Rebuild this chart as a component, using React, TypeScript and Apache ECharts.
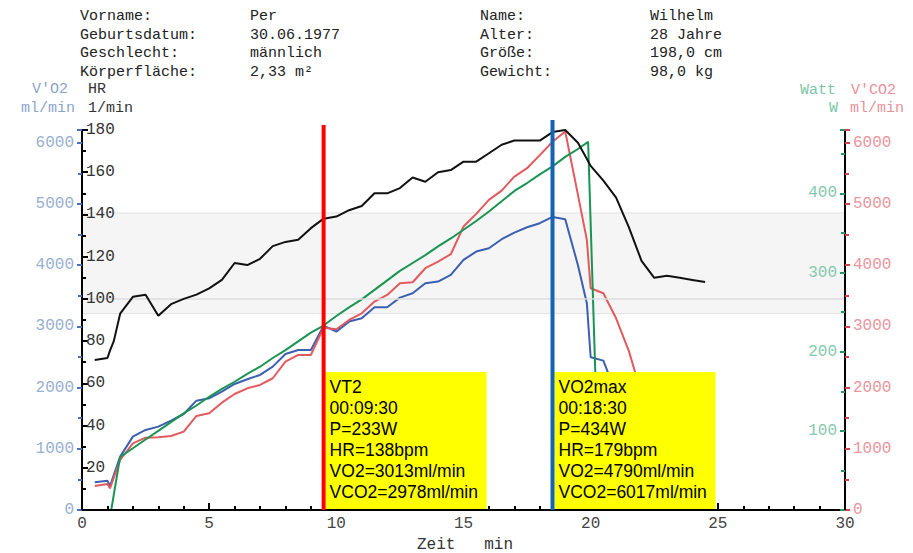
import React, { useEffect, useRef } from "react";
import * as echarts from "echarts";

// ---------- Header data ----------
const headerLabelsLeft = ["Vorname:", "Geburtsdatum:", "Geschlecht:", "Körperfläche:"];
const headerValuesLeft = ["Per", "30.06.1977", "männlich", "2,33 m²"];
const headerLabelsRight = ["Name:", "Alter:", "Größe:", "Gewicht:"];
const headerValuesRight = ["Wilhelm", "28 Jahre", "198,0 cm", "98,0 kg"];

// ---------- Series data (time in min) ----------
const hrTime = [0.5, 1.0, 1.1, 1.25, 1.5, 2.0, 2.5, 3.0, 3.5, 4.0, 4.5, 5.0, 5.5, 6.0, 6.5, 7.0, 7.5, 8.0, 8.5, 9.0, 9.5, 10.0, 10.5, 11.0, 11.5, 12.0, 12.5, 13.0, 13.5, 14.0, 14.5, 15.0, 15.5, 16.0, 16.5, 17.0, 17.5, 18.0, 18.5, 19.0, 19.5, 20.0, 20.5, 21.0, 21.5, 22.0, 22.5, 23.0, 23.5, 24.0, 24.5];
const hrValues = [71, 72, 75.5, 80, 93, 101, 102, 92, 97.5, 100, 102, 105, 109, 117, 116, 119, 125, 127, 128, 133.5, 138, 139, 142, 144, 150, 150, 152.5, 157.5, 155.5, 160, 161, 165, 165, 169, 173, 175, 175, 175, 179, 180, 174, 163, 156, 148, 134, 118, 110, 111, 110, 109, 108];

const vo2Time = [0.5, 1.0, 1.1, 1.5, 2.0, 2.5, 3.0, 3.5, 4.0, 4.5, 5.0, 5.5, 6.0, 6.5, 7.0, 7.5, 8.0, 8.5, 9.0, 9.5, 10.0, 10.5, 11.0, 11.5, 12.0, 12.5, 13.0, 13.5, 14.0, 14.5, 15.0, 15.5, 16.0, 16.5, 17.0, 17.5, 18.0, 18.5, 19.0, 19.5, 19.85, 20.0, 20.5, 21.0, 21.5];
const vo2Values = [453, 479, 392, 872, 1199, 1308, 1362, 1460, 1569, 1787, 1826, 1934, 2060, 2137, 2207, 2343, 2550, 2616, 2616, 3013, 2915, 3079, 3133, 3313, 3313, 3471, 3542, 3706, 3733, 3842, 4087, 4223, 4278, 4425, 4533, 4621, 4687, 4790, 4752, 4000, 3379, 2496, 2441, 1900, 1300];

const vco2Time = [0.5, 1.0, 1.1, 1.5, 2.0, 2.5, 3.0, 3.5, 4.0, 4.5, 5.0, 5.5, 6.0, 6.5, 7.0, 7.5, 8.0, 8.5, 9.0, 9.5, 10.0, 10.5, 11.0, 11.5, 12.0, 12.5, 13.0, 13.5, 14.0, 14.5, 15.0, 15.5, 16.0, 16.5, 17.0, 17.5, 18.0, 18.5, 19.0, 19.5, 19.85, 20.0, 20.5, 21.0, 21.5, 22.0, 22.5];
const vco2Values = [392, 425, 354, 817, 1090, 1182, 1188, 1210, 1280, 1537, 1581, 1754, 1896, 1989, 2043, 2153, 2424, 2534, 2534, 2978, 2954, 3106, 3215, 3406, 3515, 3706, 3722, 3951, 4060, 4180, 4632, 4839, 5068, 5220, 5449, 5586, 5800, 6017, 6185, 5150, 4414, 3624, 3542, 3133, 2600, 1900, 1400];

const wattTime = [1.15, 1.5, 2.0, 2.5, 3.0, 3.5, 4.0, 4.5, 5.0, 5.5, 6.0, 6.5, 7.0, 7.5, 8.0, 8.5, 9.0, 9.5, 10.0, 10.5, 11.0, 11.5, 12.0, 12.5, 13.0, 13.5, 14.0, 14.5, 15.0, 15.5, 16.0, 16.5, 17.0, 17.5, 18.0, 18.5, 19.0, 19.5, 19.9, 20.35];
const wattValues = [0, 67, 78, 89, 100, 111, 122, 132, 143, 153, 162, 172, 181, 192, 202, 213, 224, 233, 245, 256, 266, 278, 290, 302, 312, 322, 333, 343, 354, 365, 377, 390, 403, 413, 424, 434, 446, 456, 465, 0];

// HR reference band (1/min) and line
const hrBand = [93, 140.7];
const hrRefLine = 100;

// Markers
const markerTimes = [9.5, 18.5];
const markerColors = ["#ff0000", "#1464b4"];
const markerTexts = [
  ["VT2", "00:09:30", "P=233W", "HR=138bpm", "VO2=3013ml/min", "VCO2=2978ml/min"],
  ["VO2max", "00:18:30", "P=434W", "HR=179bpm", "VO2=4790ml/min", "VCO2=6017ml/min"],
];

const zip = (a: number[], b: number[]) => a.map((t, i) => [t, b[i]]);

const MONO = "'Liberation Mono', 'DejaVu Sans Mono', monospace";
const SANS = "'Liberation Sans', Arial, sans-serif";
const plain = (v: number) => String(v);

export default function App() {
  const ref = useRef<HTMLDivElement>(null);

  useEffect(() => {
    if (!ref.current) return;
    const chart = echarts.init(ref.current, null, { renderer: "svg" });

    const axisBase = (pos: string) => ({
      type: "value",
      position: pos,
      offset: 0,
      z: 20,
      splitLine: { show: false },
      minorSplitLine: { show: false },
      axisLine: { show: true, onZero: false, lineStyle: { color: "#000", width: 2 } },
    });

    const option: any = {
      animation: false,
      backgroundColor: "#ffffff",
      grid: { left: 82, right: 68, top: 130, bottom: 43, containLabel: false },
      xAxis: {
        type: "value",
        min: 0,
        max: 30,
        interval: 5,
        z: 20,
        axisLine: { lineStyle: { color: "#000", width: 2 } },
        axisTick: { inside: true, length: 7, lineStyle: { color: "#000", width: 2 } },
        minorTick: { show: true, splitNumber: 5, length: 4, lineStyle: { color: "#000", width: 2 } },
        axisLabel: { color: "#444", fontFamily: MONO, fontSize: 16, margin: 6, formatter: plain },
        splitLine: { show: false },
        minorSplitLine: { show: false },
      },
      yAxis: [
        {
          ...axisBase("left"),
          min: 0,
          max: 180,
          interval: 20,
          axisTick: { inside: true, length: 6, lineStyle: { color: "#000", width: 2 } },
          minorTick: { show: true, splitNumber: 2, length: 4, lineStyle: { color: "#000", width: 2 } },
          axisLabel: { inside: true, color: "#333", fontFamily: MONO, fontSize: 16, margin: 4, showMinLabel: false, formatter: plain },
        },
        {
          ...axisBase("left"),
          min: 0,
          max: 6210,
          interval: 1000,
          axisTick: { inside: false, length: 5, lineStyle: { color: "#4a6fbf", width: 2 } },
          minorTick: { show: true, splitNumber: 2, length: 4, lineStyle: { color: "#4a6fbf", width: 2 } },
          axisLabel: { color: "#98afd2", fontFamily: MONO, fontSize: 16, margin: 8, showMaxLabel: false, formatter: plain },
        },
        {
          ...axisBase("right"),
          min: 0,
          max: 480,
          interval: 100,
          axisTick: { inside: true, length: 5, lineStyle: { color: "#229866", width: 2 } },
          minorTick: { show: true, splitNumber: 2, length: 4, lineStyle: { color: "#229866", width: 2 } },
          axisLabel: { inside: true, color: "#86c8ac", fontFamily: MONO, fontSize: 16, margin: 8, showMaxLabel: false, showMinLabel: false, formatter: plain },
        },
        {
          ...axisBase("right"),
          min: 0,
          max: 6210,
          interval: 1000,
          axisTick: { inside: false, length: 5, lineStyle: { color: "#d8404e", width: 2 } },
          minorTick: { show: true, splitNumber: 2, length: 4, lineStyle: { color: "#d8404e", width: 2 } },
          axisLabel: { color: "#e8959e", fontFamily: MONO, fontSize: 16, margin: 8, showMaxLabel: false, formatter: plain },
        },
      ],
      series: [
        {
          name: "HR",
          type: "line",
          yAxisIndex: 0,
          data: zip(hrTime, hrValues),
          symbol: "none",
          z: 5,
          lineStyle: { color: "#111", width: 2 },
          markArea: {
            silent: true,
            itemStyle: { color: "#f5f5f5", borderColor: "#e2e2e2", borderWidth: 1 },
            data: [[{ yAxis: hrBand[0] }, { yAxis: hrBand[1] }]],
          },
          markLine: {
            silent: true,
            symbol: ["none", "none"],
            label: { show: false },
            lineStyle: { color: "#dddddd", width: 1.5, type: "solid" },
            data: [{ yAxis: hrRefLine }],
          },
        },
        {
          name: "V'O2",
          type: "line",
          yAxisIndex: 1,
          data: zip(vo2Time, vo2Values),
          symbol: "none",
          z: 4,
          lineStyle: { color: "#3d5fb0", width: 2 },
        },
        {
          name: "V'CO2",
          type: "line",
          yAxisIndex: 3,
          data: zip(vco2Time, vco2Values),
          symbol: "none",
          z: 4,
          lineStyle: { color: "#e35a5e", width: 2 },
        },
        {
          name: "Watt",
          type: "line",
          yAxisIndex: 2,
          data: zip(wattTime, wattValues),
          symbol: "none",
          z: 4,
          lineStyle: { color: "#1a9452", width: 2 },
        },
      ],
    };

    chart.setOption(option);

    const graphics: any[] = [];
    const txt = (text: string, x: number, y: number, fill: string, align = "left", size = 15, family = MONO) => ({
      type: "text",
      z: 50,
      style: { text, x, y, fill, fontSize: size, fontFamily: family, textAlign: align, textVerticalAlign: "middle" },
    });

    const headerY = [16, 35, 53, 72];
    headerY.forEach((y, i) => {
      graphics.push(txt(headerLabelsLeft[i], 80, y, "#222"));
      graphics.push(txt(headerValuesLeft[i], 250, y, "#222"));
      graphics.push(txt(headerLabelsRight[i], 480, y, "#222"));
      graphics.push(txt(headerValuesRight[i], 650, y, "#222"));
    });

    // Axis titles
    graphics.push(txt("V'O2", 68, 89, "#8ba4ca", "right"));
    graphics.push(txt("ml/min", 75, 108, "#8ba4ca", "right"));
    graphics.push(txt("HR", 88, 89, "#333"));
    graphics.push(txt("1/min", 88, 108, "#333"));
    graphics.push(txt("Watt", 836, 90, "#7cc6a8", "right"));
    graphics.push(txt("W", 838, 108, "#7cc6a8", "right"));
    graphics.push(txt("V'CO2", 851, 90, "#e8909a"));
    graphics.push(txt("ml/min", 850, 108, "#e8909a"));
    graphics.push(txt("Zeit   min", 465, 545, "#333", "center", 16));

    // Markers
    const yBottom = chart.convertToPixel({ yAxisIndex: 0 }, 0) as number;
    const yTop = chart.convertToPixel({ yAxisIndex: 0 }, 180) as number;
    markerTimes.forEach((t, i) => {
      const x = chart.convertToPixel({ xAxisIndex: 0 }, t) as number;
      graphics.push({
        type: "rect",
        z: 60,
        shape: { x: x + 2, y: yBottom - 138, width: 161, height: 137 },
        style: { fill: "#ffff00" },
      });
      graphics.push({
        type: "line",
        z: 61,
        shape: { x1: x, y1: yTop - (i === 0 ? 5 : 10), x2: x, y2: yBottom },
        style: { stroke: markerColors[i], lineWidth: 4 },
      });
      graphics.push({
        type: "text",
        z: 62,
        style: {
          text: markerTexts[i].join("\n"),
          x: x + 6,
          y: yBottom - 134,
          fill: "#000",
          fontSize: 17.5,
          fontFamily: SANS,
          lineHeight: 21,
          textAlign: "left",
          textVerticalAlign: "top",
        },
      });
    });

    chart.setOption({ graphic: graphics });

    return () => chart.dispose();
  }, []);

  return (
    <div
      ref={ref}
      style={{ position: "absolute", left: 0, top: 0, width: 913, height: 553, background: "#fff" }}
    />
  );
}
